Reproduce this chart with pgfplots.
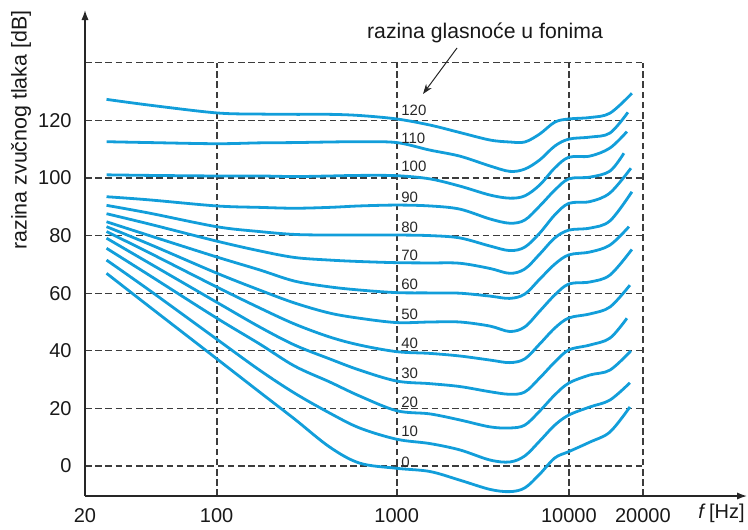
\documentclass[border=0pt]{standalone}
\usepackage{fontspec}
\setmainfont{Liberation Sans}
\usepackage{pgfplots}
\pgfplotsset{compat=1.18}
\usetikzlibrary{arrows.meta}
\definecolor{lcblue}{RGB}{18,158,218}
\definecolor{gridc}{RGB}{60,60,60}
\tikzset{cstyle/.style={color=lcblue, line width=1.4pt, smooth, tension=0.55, mark=none, solid}}
\begin{document}
\begin{tikzpicture}
% pixel frame: 1 px = 0.5 pt, axis corner (85,496) at origin
\begin{scope}[x=0.5pt,y=-0.5pt,shift={(-42.5pt,248pt)}]
  \path[use as bounding box] (0,0) rectangle (748,529);
  \foreach \yy in {466,408.4,350.8,293.2,235.6,178,120.4,62.8}
    \draw[gridc,line width=0.55pt,dash pattern=on 3.3pt off 1.8pt] (85,\yy) -- (643,\yy);
  \foreach \xx in {217,397,569,643}
    \draw[gridc,line width=0.55pt,dash pattern=on 3.3pt off 1.8pt] (\xx,496) -- (\xx,62.8);
\end{scope}
\begin{axis}[
  at={(0,0)}, anchor=south west,
  scale only axis, width=331pt, height=243pt,
  x coord trafo/.code={\pgfmathparse{ln(#1)/ln(10)+3}\edef\uu{\pgfmathresult}%
    \pgfmathparse{\uu<2 ? 85+(\uu-1.30103)*188.85 : (\uu<3 ? 217+(\uu-2)*180 : (\uu<4 ? 397+(\uu-3)*172 : 569+(\uu-4)*245.8))}},
  xmin=0.02, xmax=52.99, ymin=-10.417, ymax=158.33,
  axis lines=left,
  axis line style={line width=0.7pt, color=black!85, -{Latex[length=5pt,width=3.6pt]}},
  xtick={0.02,0.1,1,10,20}, xticklabels={20,100,1000,10000,20000},
  ytick={0,20,40,60,80,100,120},
  major tick length=0pt, tick style={draw=none},
  ticklabel style={font=\fontsize{10}{12}\selectfont, text=black!90},
  xticklabel style={yshift=-2.9pt},
  yticklabel style={xshift=-3.2pt},
  /pgf/number format/assume math mode=true,
  scaled x ticks=false,
]
% 120 phon
\addplot[cstyle] coordinates {(0.0262,127.3)(0.0442,125.3)(0.1,122.6)(0.1733,122.2)(0.2713,122.1)(0.4244,122.1)(0.6229,121.7)(1,120.5)(1.556,118.4)(2.324,115.8)(3.473,113.2)(4.539,112.5)(5.549,112.5)(6.782,115.3)(8.289,119.4)(10,120.5)(12.17,121.0)(14.69,122.5)(18.04,129.4)};
% 110 phon
\addplot[cstyle] coordinates {(0.0262,112.6)(0.0442,112.3)(0.1,111.9)(0.1733,112.2)(0.2713,112.3)(0.4244,112.5)(0.6229,112.6)(1,112.3)(1.556,109.7)(2.324,107.6)(3.473,104.2)(4.539,102.3)(5.549,103.1)(6.782,106.3)(8.289,111.1)(10,113.5)(12.17,114.2)(14.69,115.6)(17.38,122.8)};
% 100 phon
\addplot[cstyle] coordinates {(0.0262,101.1)(0.0442,100.9)(0.1,100.7)(0.1733,100.7)(0.2713,100.5)(0.4244,100.7)(0.6229,100.9)(1,100.8)(1.556,99.7)(2.324,97.2)(3.473,94.1)(4.539,93.0)(5.549,93.8)(6.782,97.6)(8.289,103.5)(10,107.2)(12.17,107.6)(14.69,110.4)(17.22,116.1)};
% 90 phon
\addplot[cstyle] coordinates {(0.0262,93.5)(0.0442,92.4)(0.1,90.3)(0.1733,89.8)(0.2713,89.5)(0.4244,89.8)(0.6229,90.3)(1,90.6)(1.556,90.3)(2.324,89.2)(3.473,85.8)(4.539,84.3)(5.549,85.4)(6.782,90.3)(8.289,95.8)(10,99.7)(12.17,100.3)(14.69,102.4)(16.74,108.6)};
% 80 phon
\addplot[cstyle] coordinates {(0.0262,90.5)(0.0442,87.8)(0.1,83.1)(0.1733,81.4)(0.2713,80.4)(0.4244,80.2)(0.6229,80.2)(1,80.2)(1.556,80.0)(2.324,79.2)(3.473,76.4)(4.539,74.8)(5.549,76.0)(6.782,80.9)(8.289,87.2)(10,91.2)(12.17,91.8)(14.69,94.8)(17.88,103.4)};
% 70 phon
\addplot[cstyle] coordinates {(0.0262,87.6)(0.0442,84.0)(0.1,78.1)(0.1733,74.7)(0.2713,72.4)(0.4244,71.5)(0.6229,71.0)(1,70.6)(1.556,70.5)(2.324,70.4)(3.473,68.6)(4.539,66.9)(5.549,68.4)(6.782,73.6)(8.289,79.2)(10,81.9)(12.17,82.6)(14.69,85.1)(18.04,95.2)};
% 60 phon
\addplot[cstyle] coordinates {(0.0262,84.8)(0.0442,80.0)(0.1,72.6)(0.1733,68.1)(0.2713,64.2)(0.4244,62.2)(0.6229,61.1)(1,60.2)(1.556,60.1)(2.324,60.0)(3.473,59.0)(4.539,58.2)(5.549,59.7)(6.782,64.9)(8.289,70.1)(10,73.3)(12.17,74.3)(14.69,76.7)(17.55,83.1)};
% 50 phon
\addplot[cstyle] coordinates {(0.0262,83.1)(0.0442,77.0)(0.1,67.0)(0.1733,61.1)(0.2713,56.6)(0.4244,53.1)(0.6229,51.3)(1,49.8)(1.556,50.0)(2.324,50.0)(3.473,48.6)(4.539,46.7)(5.549,48.3)(6.782,53.8)(8.289,59.4)(10,63.2)(12.17,63.9)(14.69,66.3)(18.04,75.2)};
% 40 phon
\addplot[cstyle] coordinates {(0.0262,81.4)(0.0442,74.0)(0.1,62.2)(0.1733,54.9)(0.2713,49.3)(0.4244,44.8)(0.6229,42.0)(1,39.7)(1.556,39.1)(2.324,38.2)(3.473,36.8)(4.539,35.9)(5.549,37.2)(6.782,42.4)(8.289,47.9)(10,51.4)(12.17,52.8)(14.69,55.2)(17.71,62.8)};
% 30 phon
\addplot[cstyle] coordinates {(0.0262,79.1)(0.0442,70.4)(0.1,56.9)(0.1733,48.3)(0.2713,42.0)(0.4244,37.2)(0.6229,33.3)(1,29.5)(1.556,28.6)(2.324,27.6)(3.473,25.8)(4.539,24.9)(5.549,25.7)(6.782,30.6)(8.289,36.1)(10,40.3)(12.17,42.0)(14.69,44.4)(17.22,51.3)};
% 20 phon
\addplot[cstyle] coordinates {(0.0262,75.6)(0.0442,66.2)(0.1,51.4)(0.1733,42.4)(0.2713,34.7)(0.4244,29.2)(0.6229,24.3)(1,19.2)(1.556,18.1)(2.324,16.0)(3.473,13.6)(4.539,13.2)(5.549,14.2)(6.782,19.1)(8.289,24.7)(10,28.8)(12.17,31.6)(14.69,33.3)(17.88,40.0)};
% 10 phon
\addplot[cstyle] coordinates {(0.0262,71.5)(0.0442,61.0)(0.1,44.1)(0.1733,33.3)(0.2713,25.3)(0.4244,18.4)(0.6229,13.2)(1,9.3)(1.556,7.8)(2.324,5.6)(3.473,2.1)(4.539,1.4)(5.549,3.5)(6.782,8.7)(8.289,14.2)(10,17.7)(12.17,20.5)(14.69,22.9)(17.71,28.9)};
% 0 phon
\addplot[cstyle] coordinates {(0.0262,66.9)(0.0442,55.3)(0.1,37.3)(0.1733,25.7)(0.2713,16.3)(0.4244,6.6)(0.6229,1.0)(1,-0.8)(1.556,-1.9)(2.324,-4.9)(3.473,-8.1)(4.539,-8.9)(5.549,-7.6)(6.782,-2.8)(8.289,2.8)(10,5.0)(12.17,8.3)(14.69,11.8)(17.71,20.5)};
\end{axis}
\begin{scope}[x=0.5pt,y=-0.5pt,shift={(-42.5pt,248pt)}]
  \node[rotate=90, inner sep=0, font=\fontsize{10.7}{12}\selectfont, text=black!90] at (21,130) {razina zvučnog tlaka [dB]};
  \node[anchor=east, inner sep=0, font=\fontsize{10}{12}\selectfont, text=black!90] at (745,513.5) {\textit{f}\,[Hz]};
  \node[inner sep=0, font=\fontsize{10.6}{12}\selectfont, text=black!90] at (485,33) {razina glasnoće u fonima};
  \draw[black!85, line width=0.5pt, -{Stealth[length=5pt,width=3.5pt]}] (457,48) -- (423,94);
  \foreach \lab/\yy in {120/110.5,110/138.5,100/166.5,90/197,80/227,70/255,60/284.5,50/314,40/343.5,30/373,20/402,10/431.5,0/462}
    \node[anchor=west, inner sep=0, font=\fontsize{7.5}{9}\selectfont, text=black!85] at (401,\yy) {\lab};
\end{scope}
\end{tikzpicture}
\end{document}
